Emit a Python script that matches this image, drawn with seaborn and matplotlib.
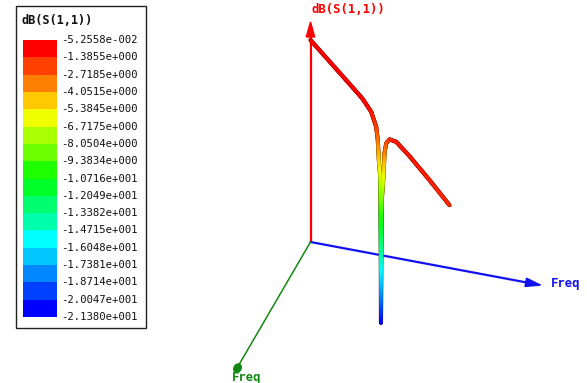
import numpy as np
import pandas as pd
import matplotlib
matplotlib.use("Agg")
import matplotlib.pyplot as plt
from matplotlib.collections import LineCollection
from matplotlib.colors import ListedColormap, LinearSegmentedColormap
from matplotlib.patches import Polygon, Rectangle, Ellipse
import seaborn as sns

# ---- data -------------------------------------------------------------
# Return loss sweep (GHz, dB)
freq_ghz = [1.000, 1.273, 1.561, 1.748, 1.873, 1.945, 1.968, 1.983, 2.003,
            2.007, 2.012, 2.014, 2.019, 2.026, 2.050, 2.065, 2.089, 2.137,
            2.233, 2.424, 2.712, 3.000]
s11_db = [-0.053, -0.060, -0.070, -0.090, -0.440, -1.420, -2.630, -4.610,
          -6.190, -8.600, -14.840, -21.380, -14.790, -8.440, -5.800, -3.200,
          -1.990, -1.180, -0.650, -0.590, -0.750, -1.030]

# Legend band boundaries (dB) and band colours, top to bottom
legend_levels = [-5.2558e-002, -1.3855e+000, -2.7185e+000, -4.0515e+000,
                 -5.3845e+000, -6.7175e+000, -8.0504e+000, -9.3834e+000,
                 -1.0716e+001, -1.2049e+001, -1.3382e+001, -1.4715e+001,
                 -1.6048e+001, -1.7381e+001, -1.8714e+001, -2.0047e+001,
                 -2.1380e+001]
band_colors = ["#ff0000", "#ff4000", "#ff8000", "#ffc800", "#f0ff00",
               "#aaff00", "#6eff00", "#1eff00", "#00ff28", "#00ff6e",
               "#00ffaa", "#00ffff", "#00c8ff", "#0087ff", "#0040ff",
               "#0000ff"]

legend_title = "dB(S(1,1))"
z_axis_label = "dB(S(1,1))"
freq_axis_label = "Freq"

# ---- figure -----------------------------------------------------------
sns.set_theme(style="white")
plt.rcParams["font.family"] = ["DejaVu Sans Mono", "DejaVu Sans"]

W, H = 587, 383
fig = plt.figure(figsize=(W / 100, H / 100), dpi=100)
ax = fig.add_axes([0, 0, 1, 1])
ax.set_xlim(0, W)
ax.set_ylim(H, 0)
ax.axis("off")

# ---- simple 3-D view: two frequency axes on the floor, dB vertical ----
f0 = 1.0                      # frequency at the axis origin
z0 = -21.2                    # dB at the axis origin
origin = np.array([310.5, 242.0])
u_blue = np.array([103.6, 19.4])     # screen shift per GHz along blue Freq
u_green = np.array([-34.1, 58.5])    # screen shift per GHz along green Freq
u_z = np.array([0.0, -9.55])         # screen shift per dB


def project(fx, fy, z):
    fx = np.asarray(fx, float)
    fy = np.asarray(fy, float)
    z = np.asarray(z, float)
    p = (origin[:, None] + np.outer(u_blue, fx - f0)
         + np.outer(u_green, fy - f0) + np.outer(u_z, z - z0))
    return p[0], p[1]


# axes extents in data units
blue_end = 3.22
green_end = 3.14
z_end = 1.84

# vertical dB axis (red)
xa, ya = project([f0, f0], [f0, f0], [z0, z_end])
ax.plot(xa, [ya[0], ya[1] + 12], color="#ff0000", lw=1.6, zorder=2)
ax.add_patch(Polygon([[xa[1], ya[1]], [xa[1] - 4.2, ya[1] + 15],
                      [xa[1] + 4.2, ya[1] + 15]], closed=True,
                     color="#ff0000", zorder=3))
ax.text(xa[1] + 1.5, ya[1] - 12.5, z_axis_label, color="#ff0000",
        fontsize=8.8, fontweight="bold", ha="left", va="center")

# blue frequency axis
xb, yb = project([f0, blue_end], [f0, f0], [z0, z0])
d = np.array([xb[1] - xb[0], yb[1] - yb[0]])
d /= np.hypot(*d)
nrm = np.array([-d[1], d[0]])
tip = np.array([xb[1], yb[1]])
base = tip - 15 * d
ax.plot([xb[0], base[0]], [yb[0], base[1]], color="#1010f0", lw=1.6,
        zorder=2)
ax.add_patch(Polygon([tip, base + 4.2 * nrm, base - 4.2 * nrm],
                     closed=True, color="#1010f0", zorder=3))
ax.text(xb[1] + 10, yb[1] - 1.5, freq_axis_label, color="#1010f0",
        fontsize=8.8, fontweight="bold", ha="left", va="center")

# green frequency axis
xg, yg = project([f0, f0], [f0, green_end], [z0, z0])
ax.plot(xg, yg, color="#118811", lw=1.1, zorder=2)
ax.add_patch(Ellipse((xg[1], yg[1] + 1), 7, 9, angle=30,
                     color="#118811", zorder=3))
ax.text(xg[1] - 6, yg[1] + 10.5, freq_axis_label, color="#118811",
        fontsize=8.8, fontweight="bold", ha="left", va="center")

# ---- S11 trace: lies on the diagonal of the two frequency axes --------
px, py = project(freq_ghz, freq_ghz, s11_db)
df = pd.DataFrame({"x": px, "y": py})

cmap_smooth = LinearSegmentedColormap.from_list(
    "s11", list(reversed(band_colors)))
vmin, vmax = legend_levels[-1], legend_levels[0]

# colour gradient along each straight segment of the trace
segs, vals = [], []
for i in range(len(px) - 1):
    n = max(2, int(np.hypot(px[i + 1] - px[i], py[i + 1] - py[i]) // 1.5) + 2)
    s = np.linspace(0, 1, n)
    xs = px[i] + s * (px[i + 1] - px[i])
    ys = py[i] + s * (py[i + 1] - py[i])
    zs = s11_db[i] + s * (s11_db[i + 1] - s11_db[i])
    for j in range(n - 1):
        segs.append([[xs[j], ys[j]], [xs[j + 1], ys[j + 1]]])
        vals.append(0.5 * (zs[j] + zs[j + 1]))
vals = np.array(vals)
cols = cmap_smooth((vals - vmin) / (vmax - vmin))
dark = cols.copy()
dark[:, :3] *= 0.72

# tube edge, drawn through seaborn, then the shaded colour core
sns.lineplot(data=df, x="x", y="y", sort=False, estimator=None,
             color="#b40000", lw=2.9, ax=ax, zorder=4)
ax.add_collection(LineCollection(segs, colors=dark, linewidths=2.9,
                                 capstyle="round", zorder=5))
ax.add_collection(LineCollection(segs, colors=cols, linewidths=1.9,
                                 capstyle="round", zorder=6))
ax.set_xlim(0, W)
ax.set_ylim(H, 0)
ax.set_xlabel("")
ax.set_ylabel("")

# ---- colour legend ----------------------------------------------------
ax.add_patch(Rectangle((15.5, 5.5), 130.5, 322.5, fill=False,
                       edgecolor="#202020", lw=1.0, zorder=1))
ax.text(22, 20, legend_title, color="#111111", fontsize=8.6,
        fontweight="bold", ha="left", va="center")

top_px, bot_px = 40.0, 317.0
left_px, right_px = 22.5, 56.5
cax = fig.add_axes([left_px / W, 1 - bot_px / H,
                    (right_px - left_px) / W, (bot_px - top_px) / H])
band_index = np.arange(len(band_colors)).reshape(-1, 1)
sns.heatmap(band_index, cmap=ListedColormap(band_colors), cbar=False,
            xticklabels=False, yticklabels=False, ax=cax,
            vmin=-0.5, vmax=len(band_colors) - 0.5)
cax.set_xlabel("")
cax.set_ylabel("")

step = (bot_px - top_px) / len(band_colors)
for i, lev in enumerate(legend_levels):
    mant, ex = f"{lev:.4e}".split("e")
    label = f"{mant}e{ex[0]}{int(ex[1:]):03d}"
    ax.text(61, top_px + i * step, label, color="#111111", fontsize=7.7,
            ha="left", va="center")

fig.savefig("out.png", dpi=100)
